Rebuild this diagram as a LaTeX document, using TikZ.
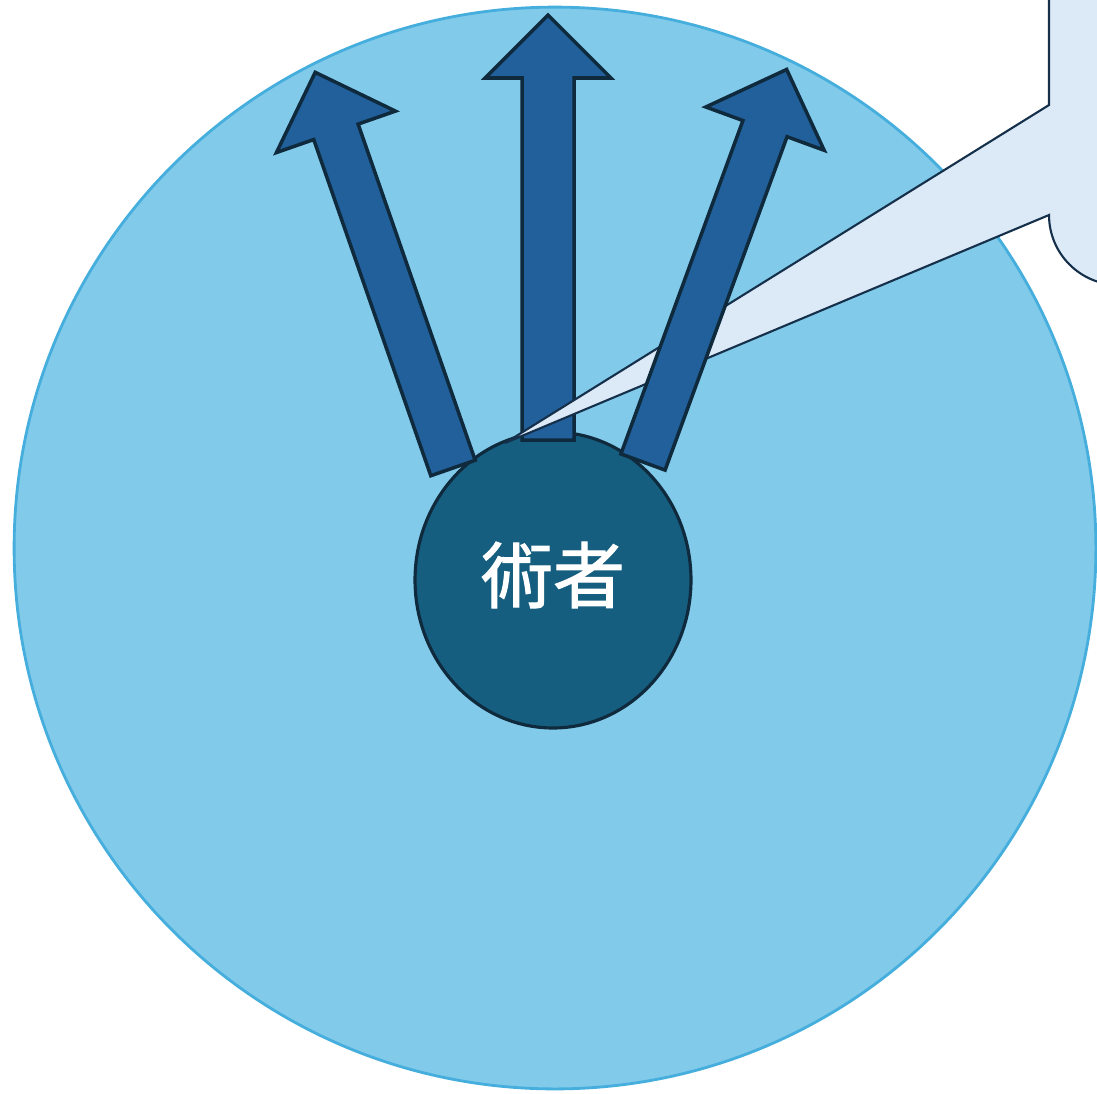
\documentclass[tikz,border=0pt]{standalone}
\usepackage{fontspec}
\usetikzlibrary{shapes.geometric}
\newfontfamily\cjk[FakeBold=1.4]{Noto Sans CJK JP}
\definecolor{fieldblue}{HTML}{82CAEA}
\definecolor{fieldedge}{HTML}{45AEDD}
\definecolor{surgeonfill}{HTML}{165E80}
\definecolor{darkedge}{HTML}{0F2A3D}
\definecolor{arrowblue}{HTML}{21609B}
\definecolor{calloutfill}{HTML}{DCE9F6}
\definecolor{calloutedge}{HTML}{15304A}

\begin{document}
\begin{tikzpicture}[x=0.02cm, y=-0.02cm,
    field/.style ={fill=fieldblue, draw=fieldedge, line width=1.6pt},
    surgeon/.style ={ellipse, fill=surgeonfill, draw=darkedge, line width=1.8pt,
                     minimum width=5.52cm, minimum height=5.92cm, inner sep=0pt},
    arrowbody/.style ={fill=arrowblue, draw=darkedge, line width=2pt, line join=miter},
    callout/.style ={fill=calloutfill, draw=calloutedge, line width=1.2pt, line join=miter}]
   \useasboundingbox (0,0) rectangle (1097,1093);
   \clip (0,0) rectangle (1097,1093);

   \filldraw[field] (555,548) circle[radius=10.82cm];
   \node[surgeon] (S) at (553,580) {};

   % middle arrow lies under the callout
   \draw[arrowbody] (522,440) -- (522,78) -- (485,78) -- (548,15) -- (611,78) -- (574,78) -- (574,440) -- cycle;

   \coordinate (T) at (505,443);
   \draw[callout] (1049,-20) -- (1049,105) -- (T) -- (1049,215)
        .. controls (1049,253.7) and (1080.3,285) .. (1119,285) -- (1140,285) -- (1140,-20) -- cycle;

   % side arrows: base, turn, length, half shaft
   \foreach \bx/\by/\ang/\len/\hw in {453/468/19.2/419/23.5, 643/462/-20.1/418/23.5}
   {
     \begin{scope}[shift={(\bx,\by)}, rotate=\ang]
       \draw[arrowbody] (-\hw,0) -- (-\hw,-\len+63) -- (-63,-\len+63) -- (0,-\len)
             -- (63,-\len+63) -- (\hw,-\len+63) -- (\hw,0) -- cycle;
     \end{scope}
   }

   \node[text=white] at (S.center) [yshift=0.1cm] {\cjk\fontsize{41}{48}\selectfont 術者};
\end{tikzpicture}
\end{document}
